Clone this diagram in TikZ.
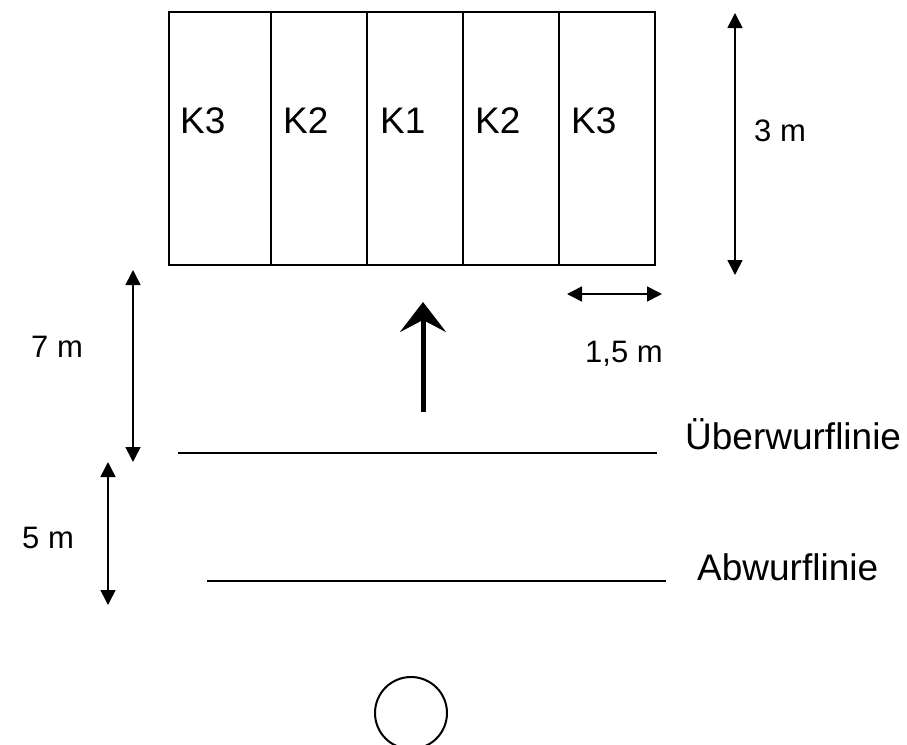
\documentclass[tikz,border=0pt]{standalone}
\usepackage{fontspec}
\setmainfont{Liberation Sans}
\usetikzlibrary{arrows.meta}
\begin{document}
\begin{tikzpicture}[x=1pt,y=-1pt,
  lbl/.style={anchor=base west,inner sep=0pt,font=\fontsize{37}{40}\selectfont},
  dimlbl/.style={anchor=base west,inner sep=0pt,font=\fontsize{31}{34}\selectfont},
  dimarrow/.style={line width=1.6pt,{Triangle[length=15pt,width=15pt]}-{Triangle[length=15pt,width=15pt]}},
  cellline/.style={line width=2pt},
  throwline/.style={line width=2.6pt}]
\useasboundingbox (0,0) rectangle (907,744);
% target field
\draw[cellline] (169,12) rectangle (655,265);
\foreach \xx in {271,367,463,559} \draw[cellline] (\xx,12) -- (\xx,265);
\node[lbl] (k3a) at (180,133) {K3};
\node[lbl] (k2a) at (283,133) {K2};
\node[lbl] (k1)  at (380,133) {K1};
\node[lbl] (k2b) at (475,133) {K2};
\node[lbl] (k3b) at (571,133) {K3};
% dimensions
\coordinate (h3t) at (735,13); \coordinate (h3b) at (735,275);
\draw[dimarrow] (h3t) -- (h3b);
\node[dimlbl] (l3) at (754,141) {3 m};
\coordinate (w1l) at (567,294); \coordinate (w1r) at (662,294);
\draw[dimarrow] (w1l) -- (w1r);
\node[dimlbl] (l15) at (585,362) {1,5 m};
\coordinate (h7t) at (133,270); \coordinate (h7b) at (133,462);
\draw[dimarrow] (h7t) -- (h7b);
\node[dimlbl] (l7) at (31,357) {7 m};
\coordinate (h5t) at (108,462); \coordinate (h5b) at (108,605);
\draw[dimarrow] (h5t) -- (h5b);
\node[dimlbl] (l5) at (22,548) {5 m};
% direction arrow
\coordinate (da) at (423,412); \coordinate (db) at (423,302);
\draw[line width=5pt,-{Stealth[length=30pt,width=46pt,inset=12pt]}] (da) -- (db);
% lines
\coordinate (ul) at (178,453); \coordinate (ur) at (657,453);
\draw[throwline] (ul) -- (ur);
\node[lbl] (ueb) at (685,449) {Überwurflinie};
\coordinate (al) at (207,581); \coordinate (ar) at (666,581);
\draw[line width=2pt] (al) -- (ar);
\node[lbl] (abw) at (697,580) {Abwurflinie};
% player
\node[draw,circle,line width=2pt,minimum size=72pt,inner sep=0pt] (player) at (411,713) {};
\end{tikzpicture}
\end{document}
